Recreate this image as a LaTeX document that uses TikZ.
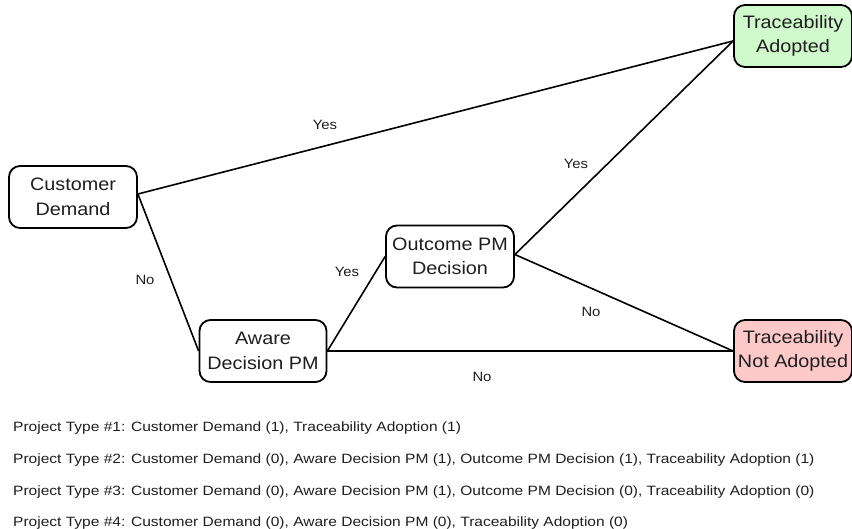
\documentclass[tikz,border=0pt]{standalone}
\usepackage{fontspec}
\setmainfont{Liberation Sans}
\newfontfamily\widesans[FakeStretch=1.1]{Liberation Sans}
\newfontfamily\legendsans[FakeStretch=1.15]{Liberation Sans}
\definecolor{adoptgreen}{RGB}{208,250,204}
\definecolor{rejectpink}{RGB}{252,200,200}
\definecolor{inkgray}{RGB}{30,30,30}
\begin{document}
\begin{tikzpicture}[x=1pt,y=-1pt,
  decision/.style={draw=black, line width=1.8pt, rounded corners=11pt, fill=white,
    minimum width=#1, minimum height=62pt, align=center, inner sep=2pt,
    text=inkgray, font=\widesans\fontsize{18}{24.5}\selectfont},
  decision/.default=128pt,
  branch/.style={line width=1.6pt},
  answer/.style={text=inkgray, font=\widesans\fontsize{13.5}{15}\selectfont},
  legendline/.style={anchor=west, inner sep=0pt, text=inkgray,
    font=\legendsans\fontsize{13.5}{15}\selectfont}]
\useasboundingbox (0,0) rectangle (852,529);

% decision nodes
\node[decision] (cd) at (73,197) {Customer\\Demand};
\node[decision=127pt] (aw) at (263,351) {Aware\\Decision PM};
\node[decision=128pt] (oc) at (450,256.5) {Outcome PM\\Decision};
\node[decision=118pt, fill=adoptgreen] (ta) at (793,36) {Traceability\\Adopted};
\node[decision=118pt, fill=rejectpink] (tn) at (793,351) {Traceability\\Not Adopted};

% junction points on the box edges
\coordinate (cdout) at ([yshift=3pt]cd.east);
\coordinate (tain) at ([yshift=-5pt]ta.west);
\coordinate (ocout) at ([yshift=2pt]oc.east);

% branches
\draw[branch] (cdout) -- (tain);
\draw[branch] (cdout) -- (aw.west);
\draw[branch] (aw.east) -- (oc.west);
\draw[branch] (aw.east) -- (tn.west);
\draw[branch] (ocout) -- (tain);
\draw[branch] (ocout) -- (tn.west);

% branch labels
\node[answer] (l1) at (325,125) {Yes};
\node[answer] (l2) at (145,280) {No};
\node[answer] (l3) at (347,272) {Yes};
\node[answer] (l4) at (482,377) {No};
\node[answer] (l5) at (576,164) {Yes};
\node[answer] (l6) at (591,312) {No};

% project type legend
\node[legendline] (p1) at (13,428) {Project Type \#1: Customer Demand (1), Traceability Adoption (1)};
\node[legendline] (p2) at (13,460) {Project Type \#2: Customer Demand (0), Aware Decision PM (1), Outcome PM Decision (1), Traceability Adoption (1)};
\node[legendline] (p3) at (13,492) {Project Type \#3: Customer Demand (0), Aware Decision PM (1), Outcome PM Decision (0), Traceability Adoption (0)};
\node[legendline] (p4) at (13,523) {Project Type \#4: Customer Demand (0), Aware Decision PM (0), Traceability Adoption (0)};
\end{tikzpicture}
\end{document}
